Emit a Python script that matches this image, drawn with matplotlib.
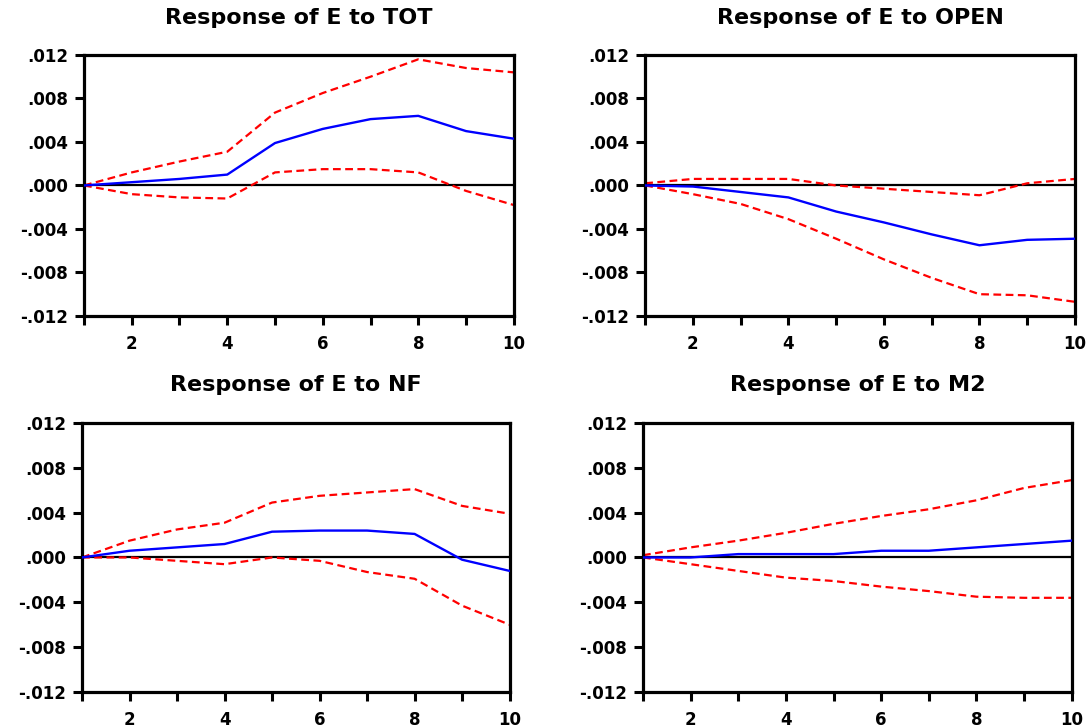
import matplotlib
matplotlib.use("Agg")
import matplotlib.pyplot as plt
from matplotlib.ticker import FixedLocator, FuncFormatter

periods = [1, 2, 3, 4, 5, 6, 7, 8, 9, 10]

titles = ["Response of E to TOT", "Response of E to OPEN",
          "Response of E to NF", "Response of E to M2"]

# impulse responses
tot_resp = [0.0, 0.0003, 0.0006, 0.0010, 0.0039, 0.0052, 0.0061, 0.0064, 0.0050, 0.0043]
tot_hi = [0.0, 0.0012, 0.0022, 0.0031, 0.0067, 0.0085, 0.0100, 0.0116, 0.0108, 0.0104]
tot_lo = [0.0, -0.0008, -0.0011, -0.0012, 0.0012, 0.0015, 0.0015, 0.0012, -0.0005, -0.0018]

open_resp = [0.0, -0.0001, -0.0006, -0.0011, -0.0024, -0.0034, -0.0045, -0.0055, -0.0050, -0.0049]
open_hi = [0.0002, 0.0006, 0.0006, 0.0006, 0.0, -0.0003, -0.0006, -0.0009, 0.0002, 0.0006]
open_lo = [0.0, -0.0008, -0.0017, -0.0031, -0.0049, -0.0068, -0.0085, -0.0100, -0.0101, -0.0107]

nf_resp = [0.0, 0.0006, 0.0009, 0.0012, 0.0023, 0.0024, 0.0024, 0.0021, -0.0002, -0.0012]
nf_hi = [0.0, 0.0015, 0.0025, 0.0031, 0.0049, 0.0055, 0.0058, 0.0061, 0.0046, 0.0039]
nf_lo = [0.0, 0.0, -0.0003, -0.0006, 0.0, -0.0003, -0.0013, -0.0019, -0.0043, -0.0060]

m2_resp = [0.0, 0.0, 0.0003, 0.0003, 0.0003, 0.0006, 0.0006, 0.0009, 0.0012, 0.0015]
m2_hi = [0.0002, 0.0009, 0.0015, 0.0022, 0.0030, 0.0037, 0.0043, 0.0051, 0.0062, 0.0069]
m2_lo = [0.0, -0.0006, -0.0012, -0.0018, -0.0021, -0.0026, -0.0030, -0.0035, -0.0036, -0.0036]

yticks = [-0.012, -0.008, -0.004, 0.0, 0.004, 0.008, 0.012]

panels = [
    (tot_resp, tot_hi, tot_lo),
    (open_resp, open_hi, open_lo),
    (nf_resp, nf_hi, nf_lo),
    (m2_resp, m2_hi, m2_lo),
]

# axes boxes in figure fractions: left, bottom, width, height
boxes = [
    [0.0772, 0.566, 0.395, 0.3585],
    [0.593, 0.566, 0.395, 0.3585],
    [0.0754, 0.0495, 0.393, 0.3695],
    [0.591, 0.0495, 0.394, 0.3695],
]
title_y = [0.975, 0.975, 0.471, 0.471]


def fmt(v, pos):
    s = "%.3f" % v
    if s.startswith("-0"):
        return "-" + s[2:]
    if s.startswith("0"):
        return s[1:]
    return s


plt.rcParams["font.family"] = ["DejaVu Sans"]
fig = plt.figure(figsize=(10.88, 7.28), dpi=100)

for i in range(4):
    resp, hi, lo = panels[i]
    ax = fig.add_axes(boxes[i])
    ax.axhline(0, color="black", lw=1.6, zorder=1)
    ax.plot(periods, hi, color="red", lw=1.6, ls=(0, (3.5, 2)), zorder=2)
    ax.plot(periods, lo, color="red", lw=1.6, ls=(0, (3.5, 2)), zorder=2)
    ax.plot(periods, resp, color="blue", lw=1.7, zorder=3)
    ax.set_xlim(1, 10)
    ax.set_ylim(-0.012, 0.012)
    ax.xaxis.set_major_locator(FixedLocator([2, 4, 6, 8, 10]))
    ax.xaxis.set_minor_locator(FixedLocator(periods))
    ax.yaxis.set_major_locator(FixedLocator(yticks))
    ax.yaxis.set_major_formatter(FuncFormatter(fmt))
    ax.tick_params(axis="both", which="both", direction="out", width=2.2, length=6.5,
                   labelsize=12, pad=5)
    ax.tick_params(axis="x", pad=7)
    for lab in ax.get_xticklabels() + ax.get_yticklabels():
        lab.set_fontweight("bold")
    for sp in ax.spines.values():
        sp.set_linewidth(2.3)
    b = boxes[i]
    fig.text(b[0] + b[2] / 2, title_y[i], titles[i], fontsize=16, fontweight="bold",
             ha="center", va="center")

fig.savefig("out.png", dpi=100)
